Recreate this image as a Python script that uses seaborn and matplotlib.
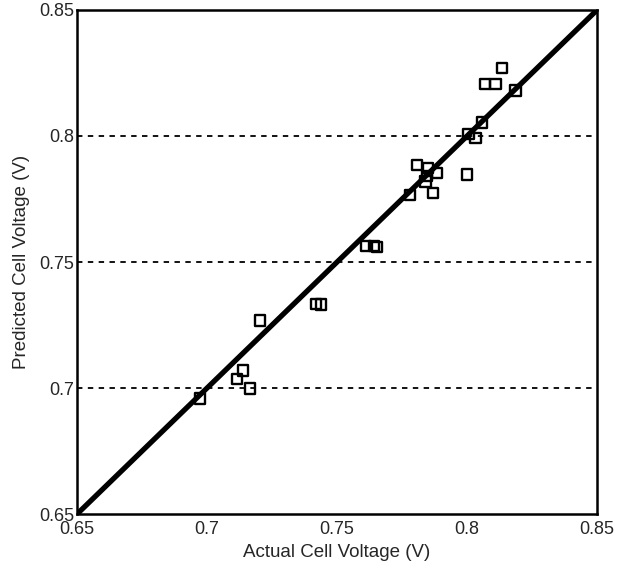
import numpy as np
import pandas as pd
import seaborn as sns
import matplotlib.pyplot as plt

# values
actual = [0.8135, 0.807, 0.8109, 0.8186, 0.8057, 0.8005, 0.8032, 0.7808, 0.7851,
          0.7885, 0.7846, 0.800, 0.787, 0.7782, 0.784, 0.7612, 0.7642, 0.7655,
          0.742, 0.744, 0.7205, 0.714, 0.7115, 0.7167, 0.6974]
predicted = [0.827, 0.8207, 0.8207, 0.818, 0.8053, 0.8008, 0.7993, 0.7885, 0.7874,
             0.7854, 0.784, 0.7847, 0.7775, 0.7767, 0.782, 0.7565, 0.7565, 0.756,
             0.7335, 0.7332, 0.7269, 0.7071, 0.7038, 0.6999, 0.6959]
diag = [0.65, 0.85]
grid_y = [0.7, 0.75, 0.8]
ticks = [0.65, 0.7, 0.75, 0.8, 0.85]
tick_labels = ["0.65", "0.7", "0.75", "0.8", "0.85"]

df = pd.DataFrame({"actual": actual, "predicted": predicted})

sns.set_style("white")
plt.rcParams['font.family'] = ['Liberation Sans', 'DejaVu Sans']

fig = plt.figure(figsize=(6.26, 5.78), dpi=100)
ax = fig.add_axes([0.1225, 0.11, 0.8315, 0.873])

for g in grid_y:
    ax.axhline(g, color="black", lw=1.3, ls=(0, (3, 3)), zorder=1)

sns.lineplot(x=diag, y=diag, ax=ax, color="black", lw=3.8, zorder=2)
sns.scatterplot(data=df, x="actual", y="predicted", ax=ax, marker="s", s=55,
                facecolor="none", edgecolor="black", linewidth=1.7, zorder=3)

ax.set_xlim(0.65, 0.85)
ax.set_ylim(0.65, 0.85)
ax.set_xticks(ticks)
ax.set_xticklabels(tick_labels)
ax.set_yticks(ticks)
ax.set_yticklabels(tick_labels)
ax.tick_params(direction="in", length=4, width=1.2, labelsize=13, pad=2)
ax.tick_params(axis="x", pad=5)
ax.set_xlabel("Actual Cell Voltage (V)", fontsize=13.5, labelpad=4)
ax.set_ylabel("Predicted Cell Voltage (V)", fontsize=13.5, labelpad=6)
for s in ax.spines.values():
    s.set_color("black")
    s.set_linewidth(1.8)

fig.savefig("out.png", dpi=100)
